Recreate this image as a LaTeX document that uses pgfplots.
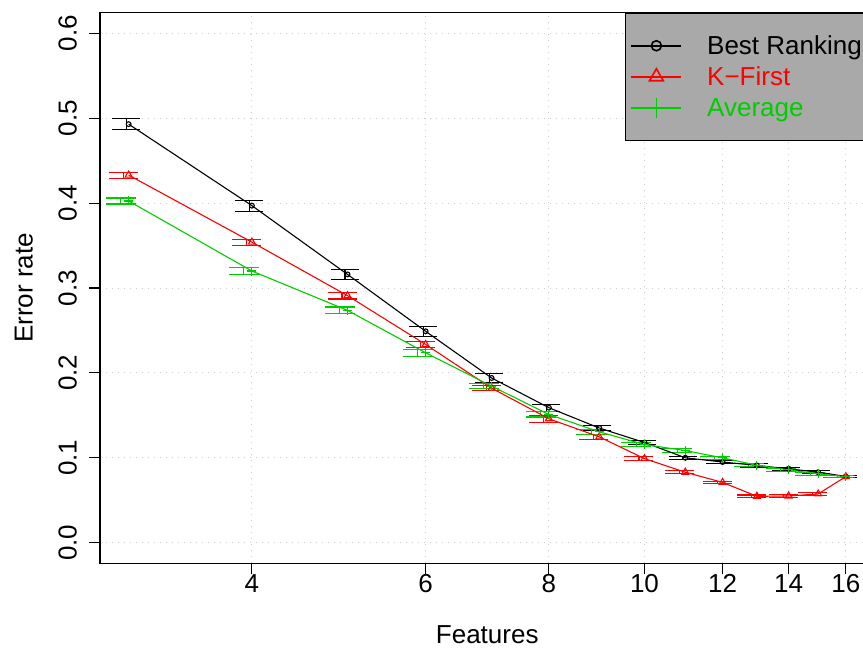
\documentclass[border=0pt]{standalone}
\usepackage{pgfplots}
\pgfplotsset{compat=1.18}
\usepackage{pgfplotstable}
\usepackage{fontspec}
\setmainfont{Liberation Sans}
\definecolor{rgreen}{RGB}{0,205,0}
\definecolor{rred}{RGB}{255,0,0}
\definecolor{legbg}{RGB}{169,169,169}
\definecolor{gridc}{RGB}{205,205,205}

\pgfplotstableread{
x y e
3 0.493 0.0065
4 0.397 0.0065
5 0.316 0.006
6 0.249 0.006
7 0.194 0.005
8 0.159 0.004
9 0.135 0.003
10 0.118 0.002
11 0.100 0.002
12 0.095 0.002
13 0.091 0.002
14 0.087 0.002
15 0.083 0.002
16 0.078 0.001
}\best
\pgfplotstableread{
x y e
3 0.433 0.0035
4 0.354 0.0035
5 0.291 0.004
6 0.2335 0.004
7 0.182 0.003
8 0.146 0.004
9 0.1246 0.003
10 0.099 0.002
11 0.083 0.002
12 0.071 0.0015
13 0.0546 0.0015
14 0.055 0.0015
15 0.0574 0.0015
16 0.0778 0.001
}\kfirst
\pgfplotstableread{
x y e
3 0.4025 0.0035
4 0.320 0.004
5 0.2736 0.004
6 0.2237 0.004
7 0.1844 0.003
8 0.151 0.003
9 0.1305 0.003
10 0.1156 0.002
11 0.1085 0.002
12 0.0999 0.002
13 0.0912 0.002
14 0.0857 0.002
15 0.081 0.002
16 0.0778 0.001
}\average

\begin{document}
\begin{tikzpicture}[font=\fontsize{26bp}{31bp}\selectfont]
\path[use as bounding box] (-100bp,-84.7bp) rectangle (763bp,563.3bp);
\clip (-100bp,-84.7bp) rectangle (763bp,563.3bp);
\begin{axis}[
  at={(0bp,0bp)}, anchor=south west,
  scale only axis, width=774.4bp, height=550.6bp,
  xmode=log, log basis x=2, xmin=2.806, xmax=17.105,
  ymin=-0.0243, ymax=0.6243,
  xtick={4,6,8,10,12,14,16}, log ticks with fixed point,
  minor xtick={},
  ytick={0,0.1,0.2,0.3,0.4,0.5,0.6},
  y tick label style={/pgf/number format/fixed, /pgf/number format/fixed zerofill, /pgf/number format/precision=1},
  /pgf/number format/assume math mode=true,
  tick label style={font=\fontsize{26bp}{31bp}\selectfont, inner sep=0pt},
  yticklabel style={rotate=90, anchor=south},
  yticklabel shift=12bp,
  xticklabel style={anchor=north},
  xtick pos=bottom, ytick pos=left,
  tick align=outside, major tick length=11bp,
  tick style={black, line width=1.1bp},
  axis line style={black, line width=1.1bp},
  grid=major,
  major grid style={draw=gridc, line width=0.9bp, dash pattern=on 1bp off 5bp},
  xlabel={Features}, ylabel={Error rate},
  label style={font=\fontsize{26bp}{31bp}\selectfont, inner sep=0pt},
  xlabel style={at={(axis description cs:0.5,-0.1460)}, anchor=base},
  ylabel style={at={(axis description cs:-0.0865,0.5)}, anchor=south},
  legend style={at={(axis description cs:0.678,1)}, anchor=north west,
    fill=legbg, draw=black, line width=1.1bp, inner xsep=5bp, inner ysep=19bp,
    font=\fontsize{26bp}{31bp}\selectfont,
    nodes={inner sep=0pt, text height=22bp, text depth=5bp},
    row sep=4bp,
    /tikz/every odd column/.style={column sep=25bp}},
  legend cell align=left,
  legend image code/.code={\draw[mark repeat=2, mark phase=2, #1] plot coordinates {(0bp,0bp) (25bp,0bp) (50bp,0bp)};},
]
% error bars (slightly offset, as in the reference)
\addplot[forget plot, draw=none, no marks, xshift=-2.5bp,
  error bars/.cd, y dir=both, y explicit,
  error bar style={draw=black, line width=1.1bp},
  error mark options={rotate=90, mark size=14bp, line width=1.1bp, draw=black}]
  table[x=x, y=y, y error=e]{\best};
\addplot[forget plot, draw=none, no marks, xshift=-5.5bp,
  error bars/.cd, y dir=both, y explicit,
  error bar style={draw=rred, line width=1.1bp},
  error mark options={rotate=90, mark size=14.5bp, line width=1.1bp, draw=rred}]
  table[x=x, y=y, y error=e]{\kfirst};
\addplot[forget plot, draw=none, no marks, xshift=-8bp,
  error bars/.cd, y dir=both, y explicit,
  error bar style={draw=rgreen, line width=1.1bp},
  error mark options={rotate=90, mark size=15bp, line width=1.1bp, draw=rgreen}]
  table[x=x, y=y, y error=e]{\average};
% series
\addplot[forget plot, black, line width=1.1bp, mark=o, mark size=2.4bp, mark options={solid}]
  table[x=x, y=y]{\best};
\addplot[forget plot, rred, line width=1.1bp, mark=triangle, mark size=4bp, mark options={solid}]
  table[x=x, y=y]{\kfirst};
\addplot[forget plot, rgreen, line width=1.1bp, mark=+, mark size=4.5bp, mark options={solid}]
  table[x=x, y=y]{\average};
% legend
\addlegendimage{black, line width=1.6bp, mark=o, mark size=5bp, mark options={solid, line width=1.6bp}}
\addlegendentry{Best Ranking\hspace{14bp}}
\addlegendimage{rred, line width=1.6bp, mark=triangle, mark size=8bp, mark options={solid, line width=1.6bp}}
\addlegendentry{\textcolor{rred}{K−First}}
\addlegendimage{rgreen, line width=1.6bp, mark=+, mark size=10bp, mark options={solid, line width=1.6bp}}
\addlegendentry{\textcolor{rgreen}{Average}}
\end{axis}
\end{tikzpicture}
\end{document}
